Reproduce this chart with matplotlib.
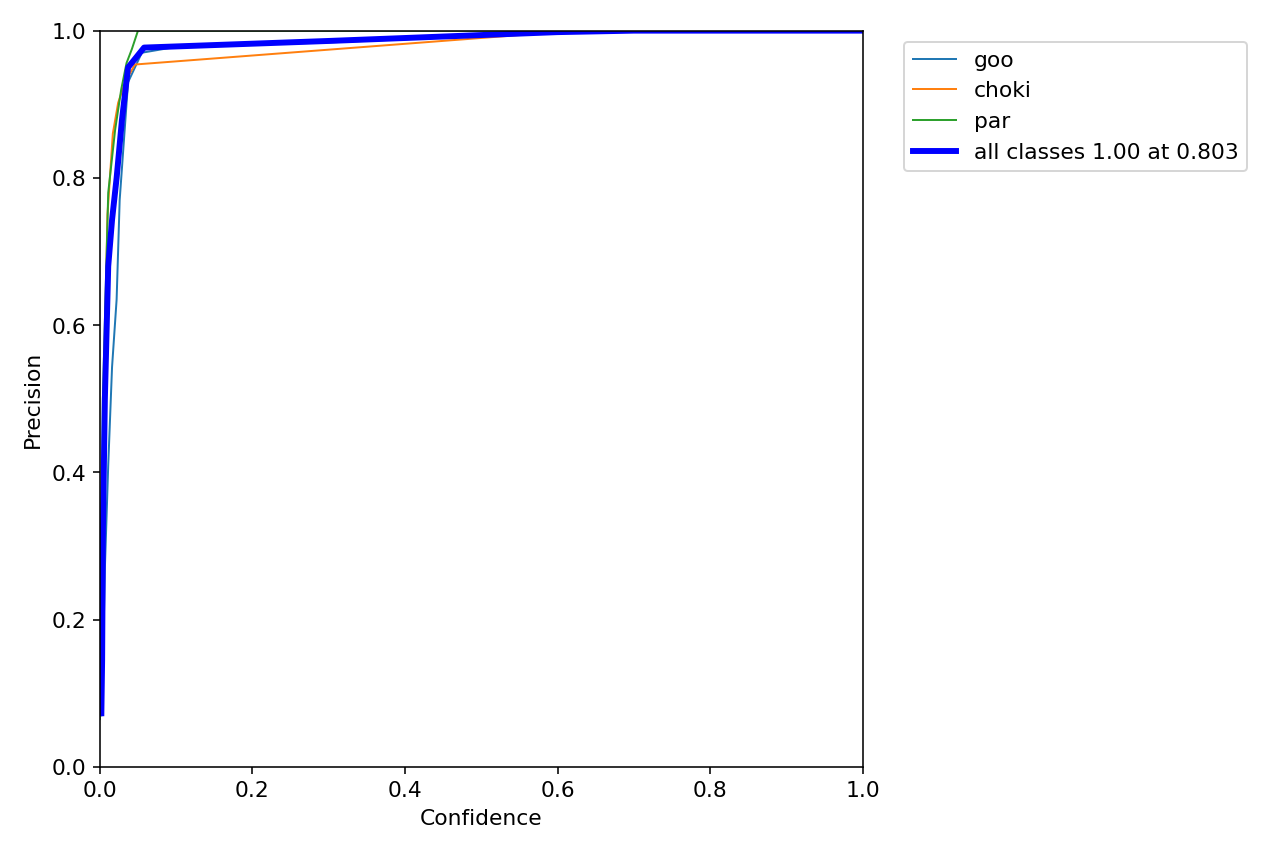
import matplotlib
matplotlib.use("Agg")
import matplotlib.pyplot as plt

plt.rcParams['font.size'] = 11

# class names and curves (confidence -> precision)
names = ["goo", "choki", "par"]

goo_x = [0.002, 0.004, 0.0066, 0.011, 0.016, 0.022, 0.026, 0.037, 0.055, 0.1, 0.3, 0.6, 0.7, 1.0]
goo_y = [0.07, 0.136, 0.27, 0.41, 0.543, 0.635, 0.77, 0.93, 0.97, 0.978, 0.984, 0.997, 1.0, 1.0]

choki_x = [0.0, 0.004, 0.01, 0.017, 0.024, 0.033, 0.046, 0.6, 0.68, 1.0]
choki_y = [0.08, 0.45, 0.75, 0.86, 0.902, 0.93, 0.954, 0.998, 1.0, 1.0]

par_x = [0.0, 0.004, 0.011, 0.02, 0.028, 0.035, 0.042, 0.05, 1.0]
par_y = [0.065, 0.5, 0.78, 0.865, 0.92, 0.956, 0.975, 1.0, 1.0]

all_x = [0.002, 0.003, 0.004, 0.0066, 0.011, 0.016, 0.022, 0.029, 0.037, 0.058, 0.3, 0.6, 0.7, 1.0]
all_y = [0.073, 0.145, 0.318, 0.5, 0.68, 0.743, 0.80, 0.879, 0.95, 0.977, 0.986, 0.998, 1.0, 1.0]
all_label = "all classes 1.00 at 0.803"

fig, ax = plt.subplots(1, 1, figsize=(9, 6))
fig.subplots_adjust(left=0.078, right=0.674, top=0.9637, bottom=0.1008)

for name, x, y in zip(names, [goo_x, choki_x, par_x], [goo_y, choki_y, par_y]):
    ax.plot(x, y, linewidth=1, label=name)

ax.plot(all_x, all_y, linewidth=3, color="blue", label=all_label)

ax.set_xlabel("Confidence")
ax.set_ylabel("Precision")
ax.set_xlim(0, 1)
ax.set_ylim(0, 1)
ax.legend(bbox_to_anchor=(1.04, 1), loc="upper left")

fig.savefig("out.png", dpi=1280 / 9)
